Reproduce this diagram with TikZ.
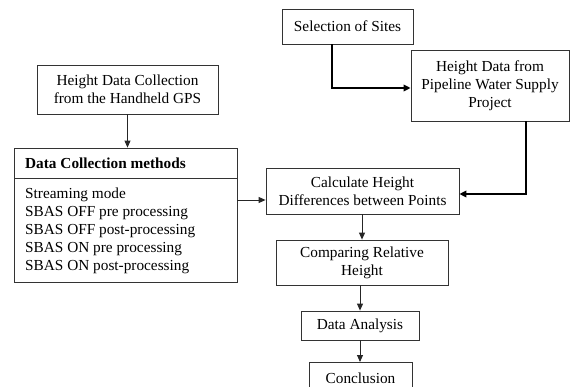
\documentclass[tikz,border=0pt]{standalone}
\usepackage{fontspec}
\setmainfont{Liberation Serif}
\usetikzlibrary{arrows.meta}
\begin{document}
\begin{tikzpicture}[x=1pt,y=-1pt,
  every node/.style={font=\fontsize{15.3}{18}\selectfont},
  box/.style={draw=black!80,line width=0.8pt,rectangle,inner sep=0pt,align=center},
  arr/.style={draw=black!85,line width=0.9pt,-{Triangle[length=7pt,width=6pt]}},
  thickarr/.style={draw=black,line width=1.8pt,-{Triangle[length=7pt,width=6.5pt]}}]
\useasboundingbox (0,0) rectangle (570,387);
\node[box,minimum width=181pt,minimum height=49pt] (hgps) at (127.5,89.5) {Height Data Collection\\from the Handheld GPS};
\node[box,minimum width=223pt,minimum height=30pt] (dcmh) at (125.5,163) {};
\node[anchor=west,inner sep=0pt,font=\fontsize{15.3}{18}\selectfont\bfseries] (dcmt) at (25,163) {Data Collection methods};
\node[box,minimum width=223pt,minimum height=104pt] (dcmb) at (125.5,230) {};
\node[anchor=north west,align=left,inner sep=0pt] (dcml) at (25,187.5) {Streaming mode\\SBAS OFF pre processing\\SBAS OFF post-processing\\SBAS ON pre processing\\SBAS ON post-processing};
\node[box,minimum width=131pt,minimum height=35pt] (sites) at (347.5,26.5) {Selection of Sites};
\node[box,minimum width=158pt,minimum height=71pt] (pipe) at (490,85.5) {Height Data from\\Pipeline Water Supply\\Project};
\node[box,minimum width=193pt,minimum height=46pt] (calc) at (362.5,191) {Calculate Height\\Differences between Points};
\node[box,minimum width=172pt,minimum height=45pt] (comp) at (362,262.5) {Comparing Relative\\Height};
\node[box,minimum width=118pt,minimum height=29pt] (da) at (360,325.5) {Data Analysis};
\node[box,minimum width=103pt,minimum height=36pt,anchor=north] (concl) at (360.5,362) {};
\node (conclt) at (360.5,378) {Conclusion};
\coordinate (c1) at (0,200);
\coordinate (c2) at (332,88);
\coordinate (c3) at (526,194);
\draw[arr] (hgps.south) -- (hgps.south|-dcmh.north);
\draw[arr] (dcmb.east|-c1) -- (calc.west|-c1);
\draw[thickarr] (sites.south-|c2) -- (c2) -- (pipe.west|-c2);
\draw[thickarr] (pipe.south-|c3) -- (c3) -- (calc.east|-c3);
\draw[arr] (calc.south-|comp.north) -- (comp.north);
\draw[arr] (comp.south-|da.north) -- (da.north);
\draw[arr] (da.south) -- (da.south|-concl.north);
\end{tikzpicture}
\end{document}
